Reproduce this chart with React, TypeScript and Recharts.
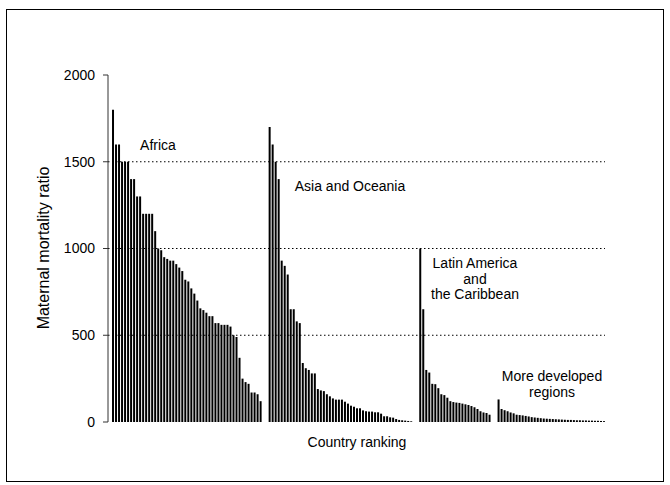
import React from 'react';
import { BarChart, Bar, XAxis, YAxis, ReferenceLine } from 'recharts';

// maternal mortality ratio per country, ranked within each region
const africa = [
  1800, 1600, 1600, 1500, 1500, 1500, 1400, 1400, 1300, 1300, 1200, 1200, 1200, 1200, 1100, 1000,
  990, 950, 940, 930, 930, 910, 890, 870, 820, 810, 770, 740, 700, 655, 645, 630, 610, 610, 570,
  570, 560, 560, 560, 550, 500, 490, 370, 250, 230, 220, 170, 170, 160, 120,
];
const asiaOceania = [
  1700, 1600, 1500, 1400, 930, 900, 850, 650, 650, 580, 570, 340, 310, 300, 280, 280, 190, 182,
  178, 160, 148, 136, 129, 129, 129, 117, 106, 94, 88, 79, 79, 67, 62, 60, 60, 56, 56, 48, 33, 33,
  27, 25, 17, 12, 10, 8, 6, 4,
];
const latinAmerica = [
  1000, 650, 300, 285, 220, 218, 195, 160, 155, 140, 120, 115, 112, 110, 106, 102, 98, 92, 85, 75,
  62, 55, 52, 42,
];
const moreDeveloped = [
  130, 75, 68, 62, 55, 50, 42, 40, 38, 35, 32, 28, 26, 24, 22, 20, 19, 18, 17, 16, 15, 14, 13, 12,
  12, 11, 10, 10, 9, 9, 8, 8, 7, 7, 6, 5,
];
const yTicks = [0, 500, 1000, 1500, 2000];
const gridValues = [500, 1000, 1500];

// empty slots separate the regions
const gap = (n: number) => Array.from({ length: n }, () => null as number | null);
const series: (number | null)[] = [
  ...gap(1), ...africa, ...gap(2), ...asiaOceania, ...gap(2), ...latinAmerica, ...gap(2), ...moreDeveloped,
];
const data = series.map((v, i) => ({ rank: i, mmr: v }));

const font = 'Arial, "Liberation Sans", sans-serif';

const App: React.FC = () => {
  return (
    <div style={{ position: 'absolute', left: 0, top: 0, width: 670, height: 485, background: '#fff' }}>
      <BarChart
        width={670}
        height={485}
        data={data}
        margin={{ top: 75, right: 65, bottom: 63, left: 0 }}
        barSize={2}
        barCategoryGap={0}
      >
        {gridValues.map((v) => (
          <ReferenceLine key={v} y={v} stroke="#000" strokeDasharray="1.5 2.5" strokeWidth={1} />
        ))}
        <XAxis dataKey="rank" height={0} tick={false} tickLine={false} axisLine={{ stroke: '#333' }} />
        <XAxis
          xAxisId="top"
          orientation="top"
          dataKey="rank"
          height={0}
          tick={false}
          tickLine={false}
          axisLine={{ stroke: '#555' }}
        />
        <YAxis
          width={108}
          domain={[0, 2000]}
          ticks={yTicks}
          interval={0}
          tickSize={5}
          tickMargin={8}
          axisLine={{ stroke: '#333' }}
          tickLine={{ stroke: '#333' }}
          tick={{ fill: '#000', fontSize: 14, fontFamily: font }}
        />
        <YAxis
          yAxisId="right"
          orientation="right"
          width={0}
          domain={[0, 2000]}
          tick={false}
          tickLine={false}
          axisLine={{ stroke: '#555' }}
        />
        <Bar dataKey="mmr" fill="#000" isAnimationActive={false} />
      </BarChart>
      <svg
        width={670}
        height={485}
        style={{ position: 'absolute', left: 0, top: 0, pointerEvents: 'none' }}
        fontFamily={font}
        fill="#000"
      >
        <rect x={6.5} y={9.5} width={657} height={472} fill="none" stroke="#000" strokeWidth={1} />
        <text x={45} y={248} fontSize={16} textAnchor="middle" transform="rotate(-90 45 248)" dominantBaseline="middle">
          Maternal mortality ratio
        </text>
        <text x={357} y={443} fontSize={14} textAnchor="middle" dominantBaseline="middle">Country ranking</text>
        <text x={158} y={146} fontSize={14} textAnchor="middle" dominantBaseline="middle">Africa</text>
        <text x={350} y={187} fontSize={14} textAnchor="middle" dominantBaseline="middle">Asia and Oceania</text>
        <text x={475} y={264} fontSize={14} textAnchor="middle" dominantBaseline="middle">Latin America</text>
        <text x={475} y={280} fontSize={14} textAnchor="middle" dominantBaseline="middle">and</text>
        <text x={475} y={295} fontSize={14} textAnchor="middle" dominantBaseline="middle">the Caribbean</text>
        <text x={552} y={377} fontSize={14} textAnchor="middle" dominantBaseline="middle">More developed</text>
        <text x={552} y={393} fontSize={14} textAnchor="middle" dominantBaseline="middle">regions</text>
      </svg>
    </div>
  );
};

export default App;
